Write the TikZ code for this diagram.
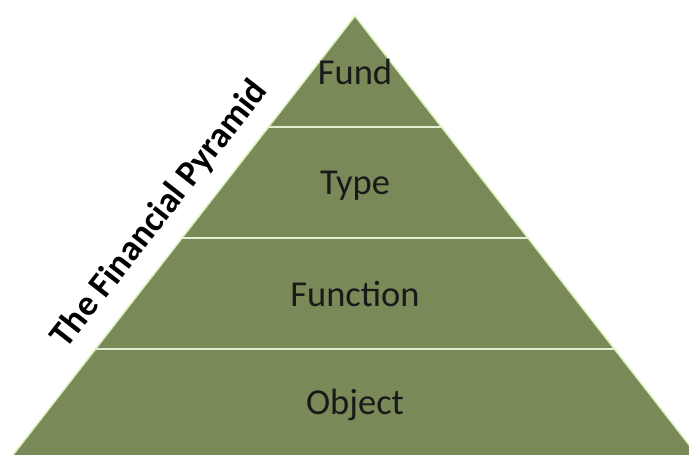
\documentclass[tikz,border=0pt]{standalone}
\usepackage{fontspec}
\setmainfont{Carlito}
\definecolor{pyr}{RGB}{122,137,88}
\definecolor{edge}{RGB}{220,242,190}
\definecolor{sep}{RGB}{225,238,210}
\begin{document}
\begin{tikzpicture}[x=1pt,y=-1pt,
  layertext/.style={font=\fontsize{36.5}{42}\selectfont, text=black!90, anchor=center},
  sepline/.style={draw=sep, line width=2.5pt}]
\useasboundingbox (0,0) rectangle (689,455);
\clip (0,0) rectangle (689,455);
\coordinate (apex) at (355,16);
\coordinate (bl) at (13,455);
\coordinate (br) at (697,455);
\fill[pyr] (apex) -- (br) -- (bl) -- cycle;
\draw[edge, line width=1.5pt] (bl) -- (apex) -- (br);
\coordinate (l1) at (268.4,127); \coordinate (r1) at (441.6,127);
\coordinate (l2) at (182,238); \coordinate (r2) at (528,238);
\coordinate (l3) at (95,349); \coordinate (r3) at (615,349);
\draw[sepline] (l1) -- (r1);
\draw[sepline] (l2) -- (r2);
\draw[sepline] (l3) -- (r3);
\node[layertext] (fund) at (355,72) {Fund};
\node[layertext] (type) at (355,186) {Type};
\node[layertext] (function) at (355,294) {Function};
\node[layertext] (object) at (355,405) {Object};
\node[font=\bfseries\fontsize{36}{40}\selectfont, text=black, rotate=52, anchor=center] (title) at (160,214) {The Financial Pyramid};
\end{tikzpicture}
\end{document}
